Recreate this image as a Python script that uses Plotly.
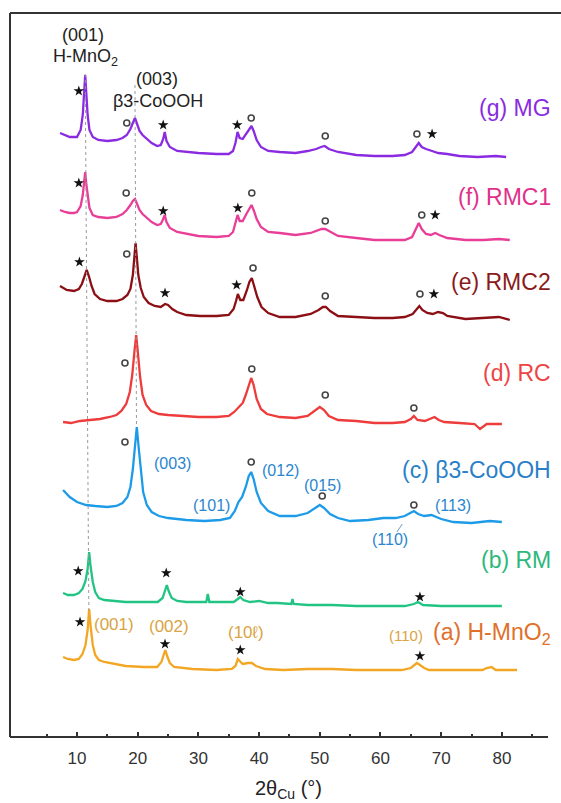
import plotly.graph_objects as go

# ---------------- data (2theta in degrees, intensity in a.u., stacked) ----------------
G_X = [7.2, 8.0, 8.8, 9.5, 10.0, 10.6, 10.95, 11.15, 11.35, 11.55, 11.75, 12.05, 12.6, 13.5, 15, 16.5, 17.5, 18.2,
       18.8, 19.2, 19.55, 19.9, 20.3, 20.8, 21.5, 22.3, 23.2, 23.8, 24.2, 24.45, 24.75, 25.3, 26.5, 28, 30, 33, 35,
       35.7, 36.1, 36.45, 36.8, 37.3, 37.9, 38.4, 38.75, 39.1, 39.6, 40.3, 41.5, 43.4, 46, 48, 49.4, 50.2, 50.8,
       51.5, 53, 56, 59, 62, 64, 65.2, 65.8, 66.3, 66.8, 67.5, 68.5, 69.5, 71, 73, 76, 79, 80.7]
G_Y = [604, 602, 600, 600, 600, 607, 622, 642, 662, 642, 622, 607, 600, 597, 596, 597, 599, 602,
       608, 614, 619, 613, 606, 602, 598, 594, 591, 592, 598, 605, 596, 590, 586, 585, 584, 583, 583,
       586, 594, 605, 599, 598, 603, 608, 611, 606, 597, 590, 586, 585, 584, 586, 588, 590, 591,
       588, 585, 582, 581, 581, 582, 585, 590, 594, 590, 588, 586, 584, 583, 581, 580, 581, 580]

F_X = [7.2, 8.0, 8.8, 9.5, 10.0, 10.6, 10.95, 11.15, 11.35, 11.55, 11.75, 12.05, 12.6, 13.5, 15, 16.5, 17.5, 18.2,
       18.8, 19.2, 19.55, 19.9, 20.3, 20.8, 21.5, 22.3, 23.2, 23.8, 24.2, 24.45, 24.75, 25.3, 26.5, 28, 30, 33, 35,
       35.7, 36.1, 36.45, 36.8, 37.3, 37.9, 38.4, 38.75, 39.1, 39.6, 40.3, 41.5, 43.4, 46, 48.5, 49.6, 50.3, 50.9,
       51.7, 53, 56, 59, 62, 64, 65.2, 65.8, 66.3, 66.8, 67.5, 68.3, 69.0, 69.7, 71, 74, 77, 79.5, 81.3]
F_Y = [527, 525, 524, 524, 525, 531, 542, 553, 565, 552, 540, 529, 522, 520, 519, 520, 523, 527,
       532, 536, 538, 533, 527, 523, 519, 515, 512, 513, 518, 522, 515, 509, 505, 503, 501, 500, 501,
       505, 513, 522, 516, 516, 523, 529, 532, 527, 518, 510, 505, 504, 502, 504, 506, 508, 508,
       505, 501, 499, 497, 497, 497, 500, 507, 514, 508, 503, 502, 504, 502, 499, 497, 497, 498, 497]

E_X = [7.2, 8.3, 9.5, 10.3, 10.8, 11.2, 11.6, 12.0, 12.4, 12.9, 13.8, 15, 16.5, 17.5, 18.3, 18.8, 19.2, 19.45,
       19.65, 19.85, 20.1, 20.5, 21.0, 21.8, 22.8, 23.8, 24.5, 25.0, 25.7, 26.5, 28, 30.3, 33, 35, 35.8, 36.2, 36.5,
       36.9, 37.4, 38.0, 38.4, 38.8, 39.2, 39.7, 40.4, 41.5, 43.4, 46, 48.5, 49.8, 50.5, 51.0, 51.7, 53, 56, 59, 62,
       64, 65.3, 65.9, 66.4, 66.9, 67.7, 68.6, 69.5, 70.3, 71, 74, 77, 79.5, 81.3]
E_Y = [451, 447, 446, 448, 453, 460, 467, 460, 451, 443, 438, 436, 436, 438, 442, 448, 462, 480,
       494, 480, 462, 449, 440, 434, 431, 430, 433, 432, 428, 425, 422, 421, 421, 422, 428, 436, 443,
       437, 437, 447, 455, 459, 451, 440, 430, 424, 420, 420, 423, 427, 430, 430, 426, 421, 420, 419, 419,
       420, 423, 428, 431, 427, 424, 423, 425, 424, 421, 418, 419, 420, 417]

D_X = [7.7, 9, 10.5, 12, 13.8, 15.4, 16.5, 17.3, 18.1, 18.7, 19.1, 19.45, 19.75, 20.05, 20.4, 20.8, 21.4, 22.2,
       23.5, 25, 27, 30, 33, 35, 35.9, 36.6, 37.3, 37.8, 38.3, 38.7, 39.1, 39.6, 40.3, 41.3, 43.4, 46, 48, 49.2,
       50.0, 50.7, 51.5, 53, 56, 59, 62, 64, 65.0, 65.5, 66.1, 67.3, 68.4, 68.9, 69.6, 70.5, 73, 75.5, 76.4, 77.5,
       79, 80]
D_Y = [315, 314, 316, 317, 318, 320, 322, 326, 333, 345, 362, 385, 402, 383, 360, 342, 332, 326,
       323, 322, 321, 320, 320, 321, 325, 330, 334, 342, 353, 359, 352, 338, 328, 323, 320, 319, 321, 326,
       330, 327, 321, 317, 316, 314, 314, 315, 318, 321, 317, 316, 319, 320, 317, 315, 314, 313, 308, 313,
       313, 313]

C_X = [7.7, 8.8, 10, 11.5, 13, 15, 16.5, 17.5, 18.3, 18.8, 19.2, 19.55, 19.85, 20.15, 20.5, 20.9, 21.5, 22.3,
       23.5, 25, 28, 31, 33.6, 35.2, 36.0, 36.6, 37.2, 37.8, 38.3, 38.7, 39.1, 39.6, 40.3, 41.5, 43.4, 46, 48,
       49.3, 50.0, 50.7, 51.7, 53, 55, 58, 60.5, 62.5, 64, 64.9, 65.5, 66.2, 67.2, 68.4, 69.2, 70, 72, 75, 78, 80]
C_Y = [247, 240, 235, 232, 231, 230, 231, 234, 240, 250, 268, 295, 310, 290, 265, 245, 232, 225,
       221, 219, 217, 216, 217, 219, 226, 235, 240, 250, 261, 265, 258, 245, 234, 226, 221, 221, 224,
       229, 232, 229, 223, 219, 216, 217, 219, 219, 221, 224, 226, 223, 221, 222, 220, 218, 215, 214, 216, 215]

B_X = [7.7, 8.5, 9.5, 10.3, 10.9, 11.4, 11.75, 12.0, 12.25, 12.6, 13.0, 13.6, 14.5, 16, 18, 21, 23.3, 24.1, 24.5,
       24.8, 25.1, 25.6, 26.5, 28, 31.3, 31.55, 31.8, 34, 35.8, 36.5, 36.9, 37.4, 38.5, 40, 41.5, 43, 45.3, 45.5,
       45.7, 48, 52, 56, 60, 64, 65.5, 66.2, 67, 70, 74, 77, 80]
B_Y = [144, 142, 142, 144, 148, 156, 168, 185, 170, 155, 145, 139, 137, 136, 135, 135, 135, 139, 146,
       152, 146, 139, 136, 135, 135, 143, 135, 135, 135, 138, 140, 137, 135, 136, 134, 134, 133, 138,
       133, 132, 132, 131, 131, 131, 133, 135, 132, 131, 131, 131, 131]

A_X = [7.7, 8.5, 9.5, 10.3, 10.9, 11.4, 11.75, 12.0, 12.25, 12.6, 13.0, 13.6, 14.5, 16, 18, 21, 23.2, 23.9, 24.3,
       24.55, 24.85, 25.3, 26, 29, 33, 35.5, 36.1, 36.5, 36.8, 37.3, 38.2, 38.8, 39.5, 41, 44, 48, 52, 56, 60,
       63.5, 65.0, 65.6, 66.0, 66.5, 67.2, 68, 72, 75, 76.8, 77.5, 78.3, 79, 81, 82.5]
A_Y = [80, 78, 77, 78, 83, 92, 107, 128, 110, 92, 82, 77, 75, 73, 71, 70, 70, 75, 82,
       87, 81, 74, 70, 68, 67, 68, 71, 78, 76, 73, 74, 74, 71, 68, 67, 68, 68, 67, 67,
       67, 69, 72, 74, 72, 69, 67, 67, 67, 67, 69, 70, 67, 67, 67]

SERIES_NAMES = ["(g) MG", "(f) RMC1", "(e) RMC2", "(d) RC", "(c) β3-CoOOH", "(b) RM", "(a) H-MnO<sub>2</sub>"]
SERIES_LABEL_Y = [629, 540, 455, 364, 267, 177, 104]

# phase markers: star = H-MnO2, open circle = beta3-CoOOH
STAR_X = [10.3, 24.2, 36.4, 68.5, 10.3, 24.2, 36.5, 69.0, 10.4, 24.5, 36.3, 68.8,
          10.2, 24.7, 36.9, 66.5, 10.5, 24.5, 36.9, 66.5]
STAR_Y = [646, 612, 612, 603, 554, 526, 529, 522, 475, 444, 452, 443,
          166, 164, 145, 140, 115, 93, 87, 81]
CIRC_X = [18.2, 38.7, 50.9, 66.0, 18.1, 38.8, 50.9, 66.8, 18.2, 39.0, 50.9, 66.5,
          17.9, 38.8, 50.9, 65.5, 17.9, 38.7, 50.4, 65.5]
CIRC_Y = [614, 619, 601, 603, 544, 544, 516, 522, 483, 469, 441, 443,
          374, 368, 342, 329, 295, 275, 241, 232]

# hkl labels
C_HKL = ["(003)", "(012)", "(101)", "(015)", "(110)", "(113)"]
C_HKL_X = [25.7, 43.5, 32.1, 50.5, 61.6, 71.9]
C_HKL_Y = [274, 267, 232, 252, 198, 232]
A_HKL = ["(001)", "(002)", "(10ℓ)", "(110)"]
A_HKL_X = [16.1, 25.2, 37.8, 64.2]
A_HKL_Y = [113, 111, 105, 102]

X_TICKS = [10, 20, 30, 40, 50, 60, 70, 80]
X_MINOR = [5, 15, 25, 35, 45, 55, 65, 75, 85]

# ---------------- styles ----------------
LINE_COLORS = ["#8a2be2", "#e83e97", "#8b0f14", "#ee3b3b", "#1e9be8", "#22c484", "#f2a623"]
LABEL_COLORS = ["#8a2be2", "#e0308a", "#8b1a1a", "#ee4444", "#2a7fc8", "#2db87c", "#e0702a"]
FONT = "Liberation Sans, Arial"

fig = go.Figure()

# dashed guide lines
fig.add_shape(type="line", x0=11.35, y0=663, x1=11.95, y1=127, xref="x", yref="y",
              line=dict(color="#9a9a9a", width=1, dash="dot"))
fig.add_shape(type="line", x0=19.55, y0=652, x1=19.8, y1=310, xref="x", yref="y",
              line=dict(color="#9a9a9a", width=1, dash="dot"))

curves = [(G_X, G_Y), (F_X, F_Y), (E_X, E_Y), (D_X, D_Y), (C_X, C_Y), (B_X, B_Y), (A_X, A_Y)]
for (xs, ys), col, name in zip(curves, LINE_COLORS, SERIES_NAMES):
    fig.add_trace(go.Scatter(x=xs, y=ys, mode="lines", line=dict(color=col, width=2.3), name=name,
                             showlegend=False, hoverinfo="skip"))

fig.add_trace(go.Scatter(x=STAR_X, y=STAR_Y, mode="markers", showlegend=False, hoverinfo="skip",
                         marker=dict(symbol="star", size=8, color="#111111")))
fig.add_trace(go.Scatter(x=CIRC_X, y=CIRC_Y, mode="markers", showlegend=False, hoverinfo="skip",
                         marker=dict(symbol="circle-open", size=6, color="#444444", line=dict(width=1.6))))

ann = []
for name, yv, col in zip(SERIES_NAMES, SERIES_LABEL_Y, LABEL_COLORS):
    ann.append(dict(x=88.4, y=yv, xref="x", yref="y", text=name, showarrow=False, xanchor="right",
                    yanchor="middle", font=dict(size=23, color=col, family=FONT)))
for t, xv, yv in zip(C_HKL, C_HKL_X, C_HKL_Y):
    ann.append(dict(x=xv, y=yv, xref="x", yref="y", text=t, showarrow=False,
                    font=dict(size=16, color="#2a86cf", family=FONT)))
for i, (t, xv, yv) in enumerate(zip(A_HKL, A_HKL_X, A_HKL_Y)):
    ann.append(dict(x=xv, y=yv, xref="x", yref="y", text=t, showarrow=False,
                    font=dict(size=17 if i < 3 else 15, color="#d9a441", family=FONT)))
# top phase labels
for t, xv, yv in [("(001)", 11.0, 702), ("H-MnO<sub>2</sub>", 11.4, 680), ("(003)", 23.2, 658), ("β3-CoOOH", 23.3, 636)]:
    ann.append(dict(x=xv, y=yv, xref="x", yref="y", text=t, showarrow=False,
                    font=dict(size=18, color="#222222", family=FONT)))
# axis title
ann.append(dict(x=0.506, y=-0.073, xref="paper", yref="paper", text="2θ<sub>Cu</sub> (°)", showarrow=False,
                yanchor="middle", font=dict(size=20, color="#222222", family=FONT)))

# tiny leader for (110)
fig.add_shape(type="line", x0=62.7, y0=205, x1=63.6, y1=213, xref="x", yref="y",
              line=dict(color="#6a9cc8", width=1))

# frame
fig.add_shape(type="line", x0=0, x1=0, y0=0, y1=1, xref="paper", yref="paper", line=dict(color="#333333", width=2))
fig.add_shape(type="line", x0=0, x1=1, y0=1, y1=1, xref="paper", yref="paper", line=dict(color="#333333", width=2))
fig.add_shape(type="line", x0=-1.04, x1=87.6, y0=0, y1=0, xref="x", yref="paper", line=dict(color="#333333", width=2))

fig.update_layout(
    width=561, height=803,
    margin=dict(l=10, r=0, t=13, b=66),
    paper_bgcolor="white", plot_bgcolor="white",
    annotations=ann,
    xaxis=dict(range=[-1.04, 89.74], showgrid=False, zeroline=False, showline=False,
               tickmode="array", tickvals=X_TICKS, ticks="inside", ticklen=5, tickwidth=1.5,
               ticklabelstandoff=9,
               tickcolor="#333333", tickfont=dict(size=17, color="#333333", family=FONT),
               minor=dict(tickmode="array", tickvals=X_MINOR, ticks="inside", ticklen=3, tickwidth=1.5,
                          tickcolor="#333333", showgrid=False)),
    yaxis=dict(range=[0, 724], visible=False, showgrid=False, zeroline=False),
)

fig.write_html("out.html")
